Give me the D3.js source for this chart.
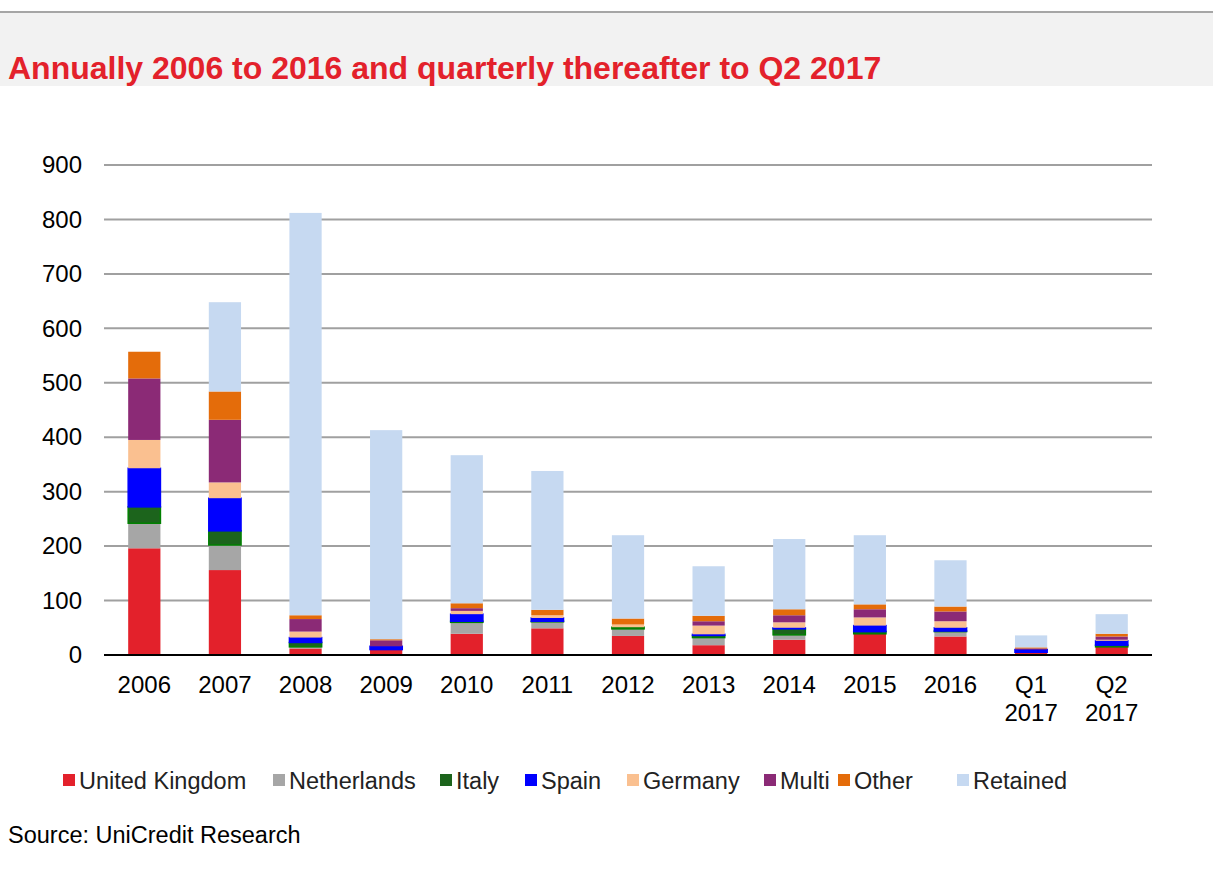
<!DOCTYPE html>
<html><head><meta charset="utf-8">
<script src="https://cdn.jsdelivr.net/npm/d3@7/dist/d3.min.js"></script>
<style>body{margin:0;background:#fff;font-family:"Liberation Sans",Arial,sans-serif;}</style>
</head><body><svg id="c" width="1213" height="878"></svg>
<script>
const categories = ["2006","2007","2008","2009","2010","2011","2012","2013","2014","2015","2016","Q1\n2017","Q2\n2017"];
const seriesNames = ["United Kingdom","Netherlands","Italy","Spain","Germany","Multi","Other","Retained"];
const unitedKingdom = [196,156,12,10,39,49,35,18,28,39,34,5,15];
const netherlands   = [46,46,3,0,21,12,13,14,9,0,9,0,0];
const italy         = [30,26,8,0,2,1,3,4,11,4,1,0,3];
const spain         = [71,60,9,6,13,6,0,2,2,11,6,5,8];
const germany       = [52,29,11,0,6,5,5,16,10,15,12,0,2];
const multi         = [113,115,23,11,5,0,0,8,13,15,18,2,6];
const other         = [49,52,7,2,9,10,11,10,11,9,9,2,5];
const retained      = [0,164,739,384,272,255,153,91,129,127,85,22,36];
const yTicks = [0,100,200,300,400,500,600,700,800,900];
const colors = ["#e3212b","#a6a6a6","#1c641c","#0000ff","#fac090","#8b2a76","#e46c0a","#c6d9f1"];

const seriesData = [unitedKingdom,netherlands,italy,spain,germany,multi,other,retained];
const table = categories.map((c,i)=>{const o={cat:c}; seriesNames.forEach((s,k)=>o[s]=seriesData[k][i]); return o;});
const stack = d3.stack().keys(seriesNames)(table);
const FF = "Liberation Sans, Arial, sans-serif";

const svg = d3.select("#c");
// header band
svg.append("rect").attr("x",0).attr("y",12).attr("width",1213).attr("height",74).attr("fill","#f2f2f2");
svg.append("line").attr("x1",0).attr("x2",1213).attr("y1",12).attr("y2",12).attr("stroke","#a6a6a6").attr("stroke-width",2);
svg.append("text").attr("x",8).attr("y",79).attr("fill","#e3212b").attr("font-size",32).attr("font-weight","bold")
  .attr("font-family",FF).text("Annually 2006 to 2016 and quarterly thereafter to Q2 2017");

const x = d3.scaleBand().domain(categories).range([104,1152]).paddingInner(0.6).paddingOuter(0.3);
const y = d3.scaleLinear().domain([0,900]).range([655,165]);

// gridlines
svg.append("g").selectAll("line").data(yTicks.slice(1)).join("line")
  .attr("x1",104).attr("x2",1152).attr("y1",d=>y(d)).attr("y2",d=>y(d))
  .attr("stroke","#a0a0a0").attr("stroke-width",2);

// bars
svg.append("g").selectAll("g").data(stack).join("g")
  .attr("fill",(d,i)=>colors[i])
  .each(function(s,i){
    d3.select(this).selectAll("rect").data(s.filter(d=>d[1]-d[0]>0)).join("rect")
      .attr("x",d=>x(d.data.cat)).attr("width",x.bandwidth())
      .attr("y",d=>y(d[1])).attr("height",d=>y(d[0])-y(d[1]))
      .attr("stroke",(i==2)?"#008000":(i==3?"#0000ff":"none"))
      .attr("stroke-width",(i==2||i==3)?1.5:0);
  });

// y axis
const ya = svg.append("g").attr("transform","translate(104,0)")
  .call(d3.axisLeft(y).tickValues(yTicks).tickSize(0).tickPadding(22));
ya.select(".domain").remove();
ya.selectAll("text").attr("font-size",24).attr("font-family",FF).attr("fill","#000");

// baseline
svg.append("line").attr("x1",104).attr("x2",1152).attr("y1",655).attr("y2",655).attr("stroke","#000").attr("stroke-width",2);

// x labels
const xa = svg.append("g").attr("transform","translate(0,655)")
  .call(d3.axisBottom(x).tickSize(0).tickFormat(""));
xa.select(".domain").remove();
xa.selectAll(".tick").each(function(d){
  const t = d3.select(this).append("text").attr("fill","#000").attr("font-size",24)
    .attr("font-family",FF).attr("text-anchor","middle");
  d.split("\n").forEach((line,k)=>t.append("tspan").attr("x",0).attr("y",38+k*28).text(line));
});

// legend
const legX = [63,273,440,525,627,764,838,957];
const lg = svg.append("g").selectAll("g").data(seriesNames).join("g")
  .attr("transform",(d,i)=>`translate(${legX[i]},781)`);
lg.append("rect").attr("x",0).attr("y",-7).attr("width",12).attr("height",12).attr("fill",(d,i)=>colors[i]);
lg.append("text").attr("x",16).attr("y",8).attr("font-size",23.5).attr("fill","#222")
  .attr("font-family",FF).text(d=>d);

svg.append("text").attr("x",8).attr("y",843).attr("font-size",23.5).attr("fill","#000")
  .attr("font-family",FF).text("Source: UniCredit Research");
</script></body></html>
